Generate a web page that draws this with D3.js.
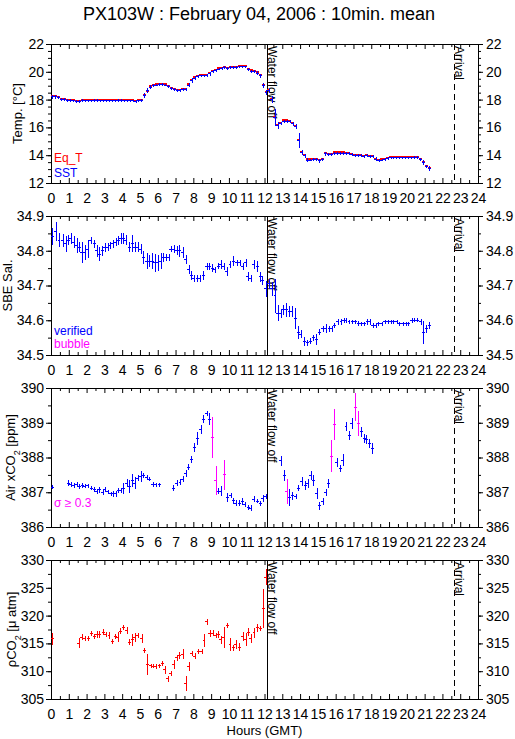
<!DOCTYPE html>
<html>
<head>
<meta charset="utf-8">
<script src="https://cdn.jsdelivr.net/npm/d3@7"></script>
<style>
  body { margin: 0; background: #fff; }
  text { font-family: "Liberation Sans", Arial, Helvetica, sans-serif; }
</style>
</head>
<body>
<div id="chart"></div>
<script>
// ---- data (10 min means) ----
const hourLabels = d3.range(0, 25);
const flowOffHour = 12.15;
const arrivalHour = 22.66;

// temperature: one value per 10 min bin starting at 00:00
const sstValues = [
  18.2,18.2,18.15,18.0,18.0,17.95,17.95,17.9,17.85,17.85,
  17.95,17.9,17.9,17.9,17.95,17.95,17.9,17.9,17.9,17.9,
  17.9,17.9,17.95,17.95,17.9,17.9,17.9,17.9,17.85,17.9,
  17.95,18.3,18.65,18.9,19.0,19.05,19.1,19.1,19.05,18.95,
  18.8,18.7,18.65,18.65,18.7,18.7,19.05,19.35,19.55,19.65,
  19.7,19.7,19.75,19.85,20.0,20.1,20.2,20.25,20.3,20.25,
  20.3,20.3,20.3,20.35,20.35,20.35,20.15,20.05,20.0,19.9,
  19.7,19.0,18.5,18.65,18.0,16.7,16.15,16.3,16.45,16.45,
  16.4,16.25,16.05,15.05,14.2,13.95,13.65,13.65,13.7,13.7,
  13.6,13.7,14.1,14.05,14.05,14.15,14.15,14.15,14.15,14.1,
  14.1,14.05,14.0,14.0,13.95,13.9,13.95,13.9,13.9,13.7,
  13.6,13.65,13.7,13.75,13.8,13.8,13.8,13.8,13.8,13.8,
  13.8,13.8,13.85,13.85,13.7,13.45,13.2,13.05
];
const eqTValues = [
  18.25,18.25,18.2,18.05,18.05,18.0,18.0,17.95,17.9,17.9,
  18.0,17.95,17.95,17.95,18.0,18.0,17.95,17.95,17.95,17.95,
  17.95,17.95,18.0,18.0,17.95,17.95,17.95,17.95,17.9,17.95,
  18.0,18.3,18.65,18.95,19.05,19.1,19.15,19.15,19.1,19.0,
  18.85,18.75,18.7,18.7,18.75,18.75,19.1,19.4,19.6,19.7,
  19.75,19.75,19.8,19.9,20.05,20.15,20.25,20.3,20.35,20.3,
  20.35,20.35,20.35,20.4,20.4,20.4,20.2,20.1,20.05,19.95,
  19.75,19.05,18.55,18.7,18.05,16.75,16.2,16.35,16.5,16.5,
  16.45,16.3,16.1,15.1,14.25,14.0,13.7,13.7,13.75,13.75,
  13.65,13.75,14.15,14.1,14.1,14.2,14.2,14.2,14.2,14.15,
  14.15,14.1,14.05,14.05,14.0,13.95,14.0,13.95,13.95,13.75,
  13.65,13.7,13.75,13.8,13.85,13.85,13.85,13.85,13.85,13.85,
  13.85,13.85,13.9,13.9,13.75,13.5,13.25,13.1
];
const sstSd = [
  .05,.05,.03,.03,.03,.03,.03,.03,.03,.03,
  .03,.03,.03,.03,.03,.03,.03,.03,.03,.03,
  .03,.03,.03,.03,.03,.03,.03,.03,.05,.03,
  .05,.1,.1,.05,.03,.03,.03,.03,.03,.03,
  .05,.03,.03,.03,.03,.03,.1,.1,.06,.03,
  .03,.03,.03,.05,.03,.03,.03,.03,.03,.03,
  .03,.03,.03,.03,.03,.03,.05,.03,.03,.05,
  .1,.12,.1,.1,.2,.55,.2,.05,.03,.03,
  .03,.05,.1,.45,.1,.1,.05,.03,.03,.03,
  .08,.03,.08,.03,.03,.03,.03,.03,.03,.03,
  .03,.03,.03,.03,.03,.03,.03,.03,.03,.08,
  .05,.03,.03,.03,.03,.03,.03,.03,.03,.03,
  .03,.03,.05,.03,.05,.1,.05,.08
];

// [hour, value, sd]
const salinity = [
  [0.07,34.842,0.022],[0.26,34.855,0.025],[0.45,34.83,0.017],[0.66,34.83,0.015],[0.82,34.82,0.02],
  [0.97,34.83,0.012],[1.12,34.835,0.012],[1.29,34.825,0.015],[1.44,34.815,0.02],[1.6,34.81,0.012],
  [1.72,34.795,0.027],[1.9,34.795,0.02],[2.06,34.805,0.022],[2.23,34.83,0.008],[2.42,34.82,0.008],
  [2.57,34.8,0.015],[2.72,34.79,0.017],[2.88,34.8,0.012],[3.03,34.81,0.01],[3.18,34.81,0.008],
  [3.31,34.815,0.008],[3.46,34.82,0.008],[3.63,34.825,0.008],[3.78,34.83,0.01],[3.91,34.835,0.012],
  [4.06,34.835,0.012],[4.21,34.83,0.012],[4.4,34.81,0.012],[4.57,34.82,0.022],[4.72,34.81,0.012],
  [4.87,34.81,0.012],[5.04,34.805,0.012],[5.19,34.78,0.015],[5.37,34.77,0.02],[5.52,34.77,0.015],
  [5.69,34.77,0.02],[5.84,34.765,0.024],[5.99,34.765,0.02],[6.16,34.77,0.02],[6.31,34.78,0.01],
  [6.46,34.78,0.008],[6.63,34.78,0.008],[6.74,34.805,0.006],[6.91,34.805,0.01],[7.06,34.8,0.01],
  [7.21,34.8,0.015],[7.4,34.795,0.012],[7.57,34.775,0.01],[7.75,34.745,0.01],[7.88,34.73,0.01],
  [8.03,34.72,0.008],[8.22,34.72,0.008],[8.37,34.72,0.008],[8.56,34.73,0.01],[8.75,34.755,0.008],
  [8.9,34.755,0.008],[9.06,34.75,0.008],[9.21,34.745,0.006],[9.4,34.755,0.006],[9.55,34.76,0.01],
  [9.72,34.755,0.008],[9.87,34.74,0.01],[10.06,34.76,0.008],[10.24,34.77,0.012],[10.43,34.765,0.006],
  [10.62,34.765,0.006],[10.77,34.755,0.008],[10.94,34.765,0.008],[11.07,34.725,0.01],[11.22,34.72,0.008],
  [11.4,34.76,0.01],[11.59,34.755,0.012],[11.75,34.725,0.012],[11.88,34.715,0.01],[12.07,34.69,0.02],
  [12.25,34.705,0.012],[12.4,34.69,0.018],[12.59,34.67,0.045],[12.74,34.62,0.02],[12.91,34.62,0.01],
  [13.06,34.63,0.012],[13.21,34.63,0.017],[13.38,34.625,0.012],[13.53,34.625,0.012],[13.72,34.605,0.027],
  [13.9,34.565,0.015],[14.05,34.56,0.008],[14.24,34.54,0.01],[14.41,34.535,0.005],[14.56,34.54,0.005],
  [14.75,34.55,0.006],[14.9,34.545,0.012],[15.08,34.565,0.006],[15.27,34.575,0.006],[15.44,34.575,0.01],
  [15.63,34.575,0.006],[15.78,34.575,0.005],[15.93,34.585,0.004],[16.11,34.595,0.005],[16.3,34.595,0.006],
  [16.45,34.6,0.005],[16.58,34.6,0.004],[16.75,34.595,0.003],[16.94,34.595,0.003],[17.09,34.595,0.003],
  [17.28,34.59,0.005],[17.43,34.59,0.003],[17.61,34.59,0.003],[17.78,34.595,0.005],[17.93,34.595,0.005],
  [18.08,34.585,0.005],[18.25,34.585,0.004],[18.4,34.59,0.003],[18.59,34.59,0.003],[18.77,34.595,0.003],
  [18.92,34.595,0.003],[19.09,34.595,0.003],[19.24,34.595,0.003],[19.43,34.595,0.003],[19.58,34.59,0.003],
  [19.77,34.59,0.003],[19.94,34.59,0.003],[20.09,34.59,0.003],[20.27,34.6,0.004],[20.42,34.6,0.003],
  [20.59,34.6,0.003],[20.78,34.595,0.005],[20.93,34.565,0.03],[21.08,34.575,0.008],[21.25,34.585,0.008]
];

const airXco2 = [
  [0.07,387.14,0.03],
  [0.97,387.26,0.06],[1.12,387.22,0.05],[1.29,387.19,0.05],[1.44,387.22,0.04],[1.59,387.17,0.04],
  [1.76,387.19,0.04],[1.91,387.17,0.03],[2.06,387.18,0.04],[2.25,387.12,0.03],[2.42,387.09,0.04],
  [2.57,387.03,0.04],[2.72,387.07,0.05],[2.9,387.0,0.05],[3.03,387.07,0.04],[3.18,387.02,0.03],
  [3.35,386.95,0.04],[3.5,386.95,0.05],[3.63,386.95,0.05],[3.78,387.05,0.05],[3.91,387.05,0.04],
  [4.06,387.12,0.13],[4.25,387.26,0.08],[4.4,387.16,0.15],[4.57,387.34,0.15],[4.72,387.26,0.15],
  [4.87,387.41,0.06],[5.04,387.45,0.12],[5.19,387.48,0.05],[5.37,387.43,0.05],[5.52,387.38,0.04],
  [5.71,387.22,0.04],[5.9,387.21,0.03],[6.09,387.21,0.03],
  [6.87,387.12,0.05],[7.06,387.26,0.05],[7.25,387.29,0.06],[7.4,387.38,0.06],[7.57,387.55,0.07],
  [7.72,387.72,0.06],[7.88,387.94,0.08],[8.05,388.29,0.1],[8.22,388.55,0.15],[8.41,388.81,0.1],
  [8.56,389.1,0.08],[8.75,389.27,0.04],[8.9,389.1,0.15],[9.06,388.58,0.57],[9.25,387.34,0.38],
  [9.4,387.03,0.05],[9.55,387.03,0.12],[9.74,387.5,0.41],[9.91,386.85,0.11],[10.09,386.9,0.05],
  [10.24,386.76,0.06],[10.39,386.69,0.06],[10.58,386.69,0.05],[10.75,386.74,0.08],[10.9,386.64,0.05],
  [11.09,386.56,0.05],[11.24,386.54,0.06],[11.4,386.8,0.06],[11.59,386.74,0.03],[11.75,386.68,0.04],
  [11.9,386.82,0.06],[12.07,386.88,0.05],
  [12.91,387.9,0.11],[13.1,387.48,0.12],[13.25,387.03,0.33],[13.4,386.85,0.21],[13.57,386.9,0.08],
  [13.75,386.88,0.05],[13.9,387.12,0.06],[14.09,387.31,0.1],[14.28,387.19,0.1],[14.43,387.24,0.1],
  [14.6,387.48,0.1],[14.75,387.34,0.14],[14.93,386.97,0.13],[15.08,386.61,0.08],[15.27,386.73,0.08],
  [15.44,387.0,0.07],[15.59,387.26,0.1],[15.74,388.04,0.43],[15.93,388.96,0.42],[16.06,387.85,0.1],
  [16.25,387.68,0.08],[16.4,387.92,0.15],[16.58,388.89,0.1],[16.77,388.64,0.1],[16.9,388.98,0.12],
  [17.09,389.45,0.38],[17.28,388.98,0.34],[17.43,388.74,0.12],[17.6,388.55,0.1],[17.71,388.52,0.1],
  [17.9,388.4,0.1],[18.06,388.26,0.12]
];

const pco2 = [
  [0.07,315.84,0.9],
  [1.57,315.06,0.75],[1.72,316.14,0.3],[1.91,315.84,0.3],[2.1,315.84,0.3],[2.25,316.75,0.3],
  [2.43,316.27,0.3],[2.57,316.57,0.4],[2.72,316.57,0.4],[2.94,317.05,0.3],[3.09,316.63,0.3],
  [3.26,316.45,0.4],[3.45,315.36,0.3],[3.6,316.27,0.3],[3.75,316.14,0.65],[3.88,317.23,0.4],
  [4.06,317.83,0.3],[4.25,317.35,0.4],[4.4,315.24,0.3],[4.57,315.66,0.9],[4.72,316.02,0.6],
  [4.87,316.45,0.3],[5.09,315.84,0.6],[5.24,313.73,0.3],[5.41,311.2,1.7],[5.6,311.0,0.2],
  [5.75,310.9,0.2],[5.9,310.84,0.2],[6.09,311.0,0.2],[6.25,311.33,0.3],[6.4,310.24,0.6],
  [6.55,308.61,0.4],[6.72,309.64,0.3],[6.91,311.2,0.7],[7.06,312.4,0.4],[7.22,312.8,0.5],
  [7.4,313.05,0.7],[7.58,307.83,1.2],[7.75,310.84,0.6],[7.9,313.13,0.3],[8.09,312.71,0.3],
  [8.28,313.55,0.2],[8.46,313.55,0.2],[8.6,315.54,1.0],[8.75,318.86,0.3],[8.93,316.75,0.5],
  [9.08,316.87,0.3],[9.25,316.45,0.3],[9.4,316.57,0.4],[9.55,315.66,0.5],[9.72,316.14,1.7],
  [9.91,318.19,0.3],[10.06,314.76,1.0],[10.24,314.22,0.4],[10.39,314.82,0.7],[10.58,314.34,0.5],
  [10.77,316.27,0.6],[10.94,315.78,1.0],[11.09,317.05,0.5],[11.22,315.84,0.6],[11.41,316.9,0.7],
  [11.6,317.8,0.5],[11.75,317.65,0.3],[11.93,321.3,3.3],[12.08,326.9,1.3]
];

// ---- layout ----
const width = 515, height = 739;
const plotLeft = 51, plotRight = 478, panelH = 139;
const binHalf = 1 / 12;   // half of a 10 min bin, in hours
const blue = "#0000ff", red = "#ff0000", magenta = "#ff00ff";

const x = d3.scaleLinear().domain([0, 24]).range([plotLeft, plotRight]);

const svg = d3.select("#chart").append("svg")
    .attr("width", width)
    .attr("height", height);

svg.append("text")
    .attr("x", 259).attr("y", 20)
    .attr("text-anchor", "middle")
    .style("font-size", "18px")
    .text("PX103W : February 04, 2006 : 10min. mean");

function drawPanel(p, idx) {
  const bottom = p.top + panelH;
  const y = d3.scaleLinear().domain(p.domain).range([bottom, p.top]);
  const g = svg.append("g");

  const majors = d3.range(p.domain[0], p.domain[1] + p.major / 2, p.major);
  const minors = d3.range(p.domain[0], p.domain[1] + p.minor / 2, p.minor);

  const style = sel => {
    sel.select(".domain").remove();
    sel.attr("font-family", null).attr("font-size", null);
    sel.selectAll("text").style("font-size", "14px");
  };

  // y axes, ticks outward
  g.append("g").attr("transform", `translate(${plotLeft},0)`)
      .call(d3.axisLeft(y).tickValues(minors).tickSize(3).tickFormat("")).call(style);
  g.append("g").attr("transform", `translate(${plotLeft},0)`)
      .call(d3.axisLeft(y).tickValues(majors).tickSize(5).tickPadding(2).tickFormat(d3.format(p.fmt))).call(style);
  g.append("g").attr("transform", `translate(${plotRight},0)`)
      .call(d3.axisRight(y).tickValues(minors).tickSize(3).tickFormat("")).call(style);
  g.append("g").attr("transform", `translate(${plotRight},0)`)
      .call(d3.axisRight(y).tickValues(majors).tickSize(5).tickPadding(3).tickFormat(d3.format(p.fmt))).call(style);

  // x axes, ticks inward
  const halfHours = d3.range(0.5, 24, 1);
  g.append("g").attr("transform", `translate(0,${bottom})`)
      .call(d3.axisBottom(x).tickValues(halfHours).tickSize(-3).tickFormat("")).call(style);
  g.append("g").attr("transform", `translate(0,${bottom})`)
      .call(d3.axisBottom(x).tickValues(hourLabels).tickSize(-5).tickPadding(10).tickFormat(d3.format("d"))).call(style);
  g.append("g").attr("transform", `translate(0,${p.top})`)
      .call(d3.axisTop(x).tickValues(halfHours).tickSize(-3).tickFormat("")).call(style);
  g.append("g").attr("transform", `translate(0,${p.top})`)
      .call(d3.axisTop(x).tickValues(hourLabels).tickSize(-5).tickFormat("")).call(style);

  g.append("rect")
      .attr("x", plotLeft + 0.5).attr("y", p.top + 0.5)
      .attr("width", plotRight - plotLeft).attr("height", panelH)
      .attr("fill", "none").attr("stroke", "#000")
      .attr("shape-rendering", "crispEdges");

  // y label
  const lab = svg.append("text")
      .attr("transform", `translate(${p.labelX},${p.top + panelH / 2}) rotate(-90)`)
      .attr("text-anchor", "middle")
      .style("font-size", "13px");
  p.label.forEach(part => {
    const t = lab.append("tspan").text(part.t);
    if (part.sub) t.attr("baseline-shift", "sub").style("font-size", "9px");
  });

  // water flow off / arrival markers
  g.append("line")
      .attr("x1", Math.round(x(flowOffHour)) + 0.5).attr("x2", Math.round(x(flowOffHour)) + 0.5)
      .attr("y1", p.top).attr("y2", bottom)
      .attr("stroke", "#000");
  g.append("line")
      .attr("x1", Math.round(x(arrivalHour)) + 0.5).attr("x2", Math.round(x(arrivalHour)) + 0.5)
      .attr("y1", p.top).attr("y2", bottom)
      .attr("stroke", "#000").attr("stroke-dasharray", "6,4");
  g.append("text")
      .attr("transform", `translate(${Math.round(x(flowOffHour)) + 1},${p.top + 2}) rotate(90)`)
      .style("font-size", "12px")
      .text("Water flow off");
  g.append("text")
      .attr("transform", `translate(${Math.round(x(arrivalHour)) + 1},${p.top + 2}) rotate(90)`)
      .style("font-size", "12px")
      .text("Arrival");

  // legend
  p.legend.forEach(l => {
    svg.append("text").attr("x", 54).attr("y", l.y)
        .attr("fill", l.color).style("font-size", "12px").text(l.text);
  });

  svg.append("clipPath").attr("id", "clip" + idx)
    .append("rect").attr("x", plotLeft).attr("y", p.top)
      .attr("width", plotRight - plotLeft).attr("height", panelH);

  const marks = svg.append("g")
      .attr("clip-path", `url(#clip${idx})`)
      .attr("shape-rendering", "crispEdges");
  return { y, marks };
}

function crosses(panel, rows, color, strokeW, withBars) {
  const m = panel.marks.append("g").attr("stroke-width", strokeW);
  const y = panel.y;
  m.selectAll("line.h").data(rows).join("line").attr("class", "h")
      .attr("stroke", d => typeof color === "function" ? color(d) : color)
      .attr("x1", d => x(d[0] - binHalf)).attr("x2", d => x(d[0] + binHalf))
      .attr("y1", d => y(d[1])).attr("y2", d => y(d[1]));
  if (!withBars) return;
  m.selectAll("line.v").data(rows).join("line").attr("class", "v")
      .attr("stroke", d => typeof color === "function" ? color(d) : color)
      .attr("x1", d => Math.round(x(d[0])) + 0.5).attr("x2", d => Math.round(x(d[0])) + 0.5)
      .attr("y1", d => y(d[1] - d[2]) + 1).attr("y2", d => y(d[1] + d[2]) - 1);
}

const panels = [
  { top: 44, domain: [12, 22], major: 2, minor: 0.5, fmt: "d", labelX: 22,
    label: [{ t: "Temp. [°C]" }],
    legend: [{ text: "Eq_T", color: red, y: 162 }, { text: "SST", color: blue, y: 177 }] },
  { top: 216, domain: [34.5, 34.9], major: 0.1, minor: 0.05, fmt: ".1f", labelX: 12,
    label: [{ t: "SBE Sal." }],
    legend: [{ text: "verified", color: blue, y: 335 }, { text: "bubble", color: magenta, y: 348 }] },
  { top: 388, domain: [386, 390], major: 1, minor: 0.5, fmt: "d", labelX: 15,
    label: [{ t: "Air xCO" }, { t: "2", sub: true }, { t: " [ppm]" }],
    legend: [{ text: "σ ≥ 0.3", color: magenta, y: 507 }] },
  { top: 560, domain: [305, 330], major: 5, minor: 2.5, fmt: "d", labelX: 16,
    label: [{ t: "ρCO" }, { t: "2", sub: true }, { t: " [μ atm]" }],
    legend: [] }
];

const drawn = panels.map(drawPanel);

const tempHours = sstValues.map((v, i) => (i + 0.5) / 6);
const eqTRows = eqTValues.map((v, i) => [tempHours[i], v, 0]);
const sstRows = sstValues.map((v, i) => [tempHours[i], v, sstSd[i]]);

crosses(drawn[0], eqTRows, red, 2, false);
crosses(drawn[0], sstRows, blue, 1, true);
crosses(drawn[1], salinity, blue, 1, true);
crosses(drawn[2], airXco2, d => d[2] >= 0.3 ? magenta : blue, 1, true);
crosses(drawn[3], pco2, red, 1, true);

svg.append("text")
    .attr("x", (plotLeft + plotRight) / 2).attr("y", 735)
    .attr("text-anchor", "middle")
    .style("font-size", "13px")
    .text("Hours (GMT)");
</script>
</body>
</html>
